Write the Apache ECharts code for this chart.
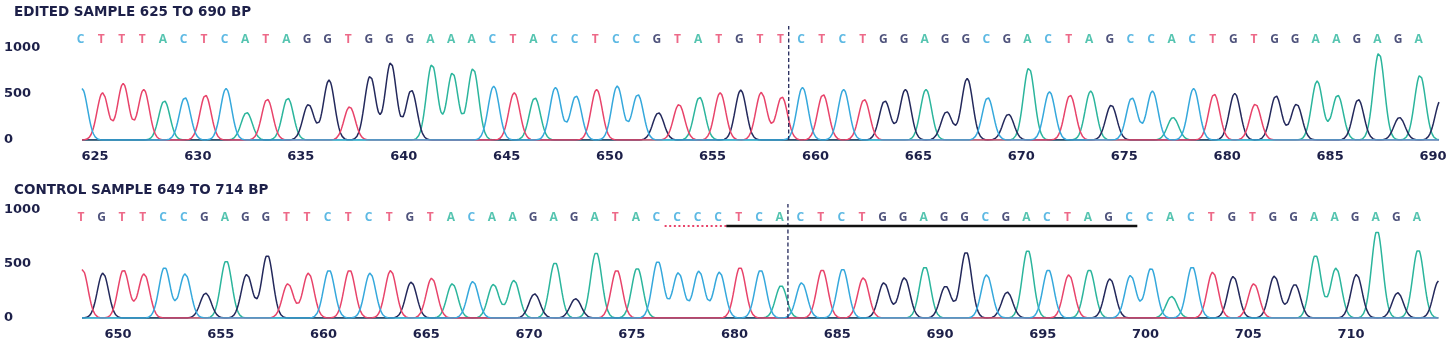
<!DOCTYPE html>
<html><head><meta charset="utf-8">
<script src="https://cdn.jsdelivr.net/npm/echarts@6/dist/echarts.min.js"></script>
<style>html,body{margin:0;padding:0;background:#fff}#c{width:1452px;height:345px}</style>
</head><body><div id="c"></div>
<script>
// ---------- DATA ----------
const topTitle = "EDITED SAMPLE 625 TO 690 BP";
const bottomTitle = "CONTROL SAMPLE 649 TO 714 BP";

// base calls (one letter per peak) and peak heights
const topSeq = "CTTTACTCATAGGTGGGAAACTACCTCCGTATGTTCTCTGGAGGCGACTAGCCACTGTGGAAGAGA";
const topHeights = [560,514,615,550,427,463,489,561,300,445,456,387,652,362,695,843,543,822,731,778,
  586,514,460,572,481,550,586,496,297,387,467,514,543,518,470,572,496,550,442,427,
  550,550,308,670,463,282,786,525,489,532,380,460,532,246,561,500,507,391,481,391,
  641,489,442,948,246,706];
const topFirstBase = 624.3;          // axis position of the first call
const topTrailPeak = ["G", 430];     // unlabelled peak just past the last call

const bottomSeq = "TGTTCCGAGGTTCTCTGTACAAGAGATACCCCTCACTCTGGAGGCGACTAGCCACTGTGGAAGAGA";
const bottomHeights = [450,417,447,410,472,410,231,534,404,586,318,417,447,447,417,441,333,370,318,339,
  312,349,225,518,179,611,447,466,528,420,435,426,472,447,302,327,450,457,373,327,
  373,478,296,617,401,241,633,450,401,450,364,395,463,200,478,426,386,318,389,312,
  586,463,404,812,235,636];
const bottomFirstBase = 648.2;
const bottomTrailPeak = ["G", 345];

const topTicks = [625,630,635,640,645,650,655,660,665,670,675,680,685,690];
const bottomTicks = [650,655,660,665,670,675,680,685,690,695,700,705,710];
const yTicks = [0, 500, 1000];

const topCut = 658.7;
const bottomCut = 682.6;
const pamRange = [676.6, 679.6];
const guideRange = [679.6, 699.6];

// ---------- STYLE ----------
const baseColor = { A: "#2bb59c", C: "#35a8dc", G: "#23285b", T: "#e8436a" };
const ink = "#1d2049";
const SIGMA = 0.27, PEAK_SHIFT = 0.07, STEP = 0.04;

function traces(seq, heights, first, trail, xmin, xmax) {
  const peaks = { A: [], C: [], G: [], T: [] };
  for (let i = 0; i < seq.length; i++) peaks[seq[i]].push([first + i + PEAK_SHIFT, heights[i]]);
  peaks[trail[0]].push([first + seq.length + PEAK_SHIFT, trail[1]]);
  const out = {};
  for (const b of "AGTC") {
    const d = [];
    for (let x = xmin; x <= xmax + 1e-9; x += STEP) {
      let y = 0;
      for (const [p, h] of peaks[b]) {
        const z = (x - p) / SIGMA;
        if (Math.abs(z) < 6) y += h * Math.exp(-0.5 * z * z);
      }
      d.push([+x.toFixed(3), +y.toFixed(1)]);
    }
    out[b] = d;
  }
  return out;
}

const panels = [
  { seq: topSeq, h: topHeights, first: topFirstBase, trail: topTrailPeak, xmin: 624.37, xmax: 690.29,
    ticks: topTicks, letterY: 1087, cut: topCut, cutTop: 1239 },
  { seq: bottomSeq, h: bottomHeights, first: bottomFirstBase, trail: bottomTrailPeak, xmin: 648.25, xmax: 714.28,
    ticks: bottomTicks, letterY: 926, cut: bottomCut, cutTop: 1056 }
];

const series = [];
const xAxis = [], yAxis = [];
panels.forEach((p, gi) => {
  xAxis.push({
    gridIndex: gi, type: "value", min: p.xmin, max: p.xmax,
    axisLine: { show: false }, axisTick: { show: false }, splitLine: { show: false },
    axisLabel: { customValues: p.ticks, margin: 10, fontSize: 13, fontWeight: "bold",
      color: ink, fontFamily: "DejaVu Sans", formatter: v => String(v) }
  });
  yAxis.push({
    gridIndex: gi, type: "value", min: 0, max: 1000, interval: 500,
    axisLine: { show: false }, axisTick: { show: false }, splitLine: { show: false },
    axisLabel: { customValues: yTicks, align: "left", margin: 78, fontSize: 13, fontWeight: "bold",
      color: ink, fontFamily: "DejaVu Sans", formatter: v => String(v) }
  });
  const tr = traces(p.seq, p.h, p.first, p.trail, p.xmin, p.xmax);
  for (const b of "AGTC") {
    series.push({
      type: "line", xAxisIndex: gi, yAxisIndex: gi, data: tr[b], showSymbol: false, symbol: "none",
      lineStyle: { color: baseColor[b], width: 1.5 }, itemStyle: { color: baseColor[b] },
      animation: false, silent: true, z: 2
    });
  }
  series.push({
    type: "scatter", xAxisIndex: gi, yAxisIndex: gi, clip: false, symbolSize: 1,
    itemStyle: { color: "rgba(0,0,0,0)" }, animation: false, silent: true, z: 5,
    data: p.seq.split("").map((c, i) => ({
      value: [p.first + i, p.letterY, c],
      label: { color: baseColor[c] }
    })),
    label: { show: true, position: "inside", formatter: q => q.value[2], fontSize: 12,
      fontWeight: "bold", fontFamily: "Open Sans" }
  });
  series.push({
    type: "line", xAxisIndex: gi, yAxisIndex: gi, clip: false, symbol: "none", animation: false, silent: true, z: 6,
    data: [[p.cut, 0], [p.cut, p.cutTop]],
    lineStyle: { color: "#23285b", width: 1.3, type: [4, 2.5] }
  });
});

series.push({
  type: "line", xAxisIndex: 1, yAxisIndex: 1, clip: false, symbol: "none", animation: false, silent: true, z: 6,
  data: [[pamRange[0], 852], [pamRange[1], 852]],
  lineStyle: { color: "#e8436a", width: 2.2, type: [2, 2.6] }
});
series.push({
  type: "line", xAxisIndex: 1, yAxisIndex: 1, clip: false, symbol: "none", animation: false, silent: true, z: 6,
  data: [[guideRange[0], 852], [guideRange[1], 852]],
  lineStyle: { color: "#111111", width: 2.4 }
});

const chart = echarts.init(document.getElementById("c"), null, { renderer: "canvas" });
const titleStyle = { fontSize: 13.5, fontWeight: "bold", color: ink, fontFamily: "DejaVu Sans" };
chart.setOption({
  animation: false,
  backgroundColor: "#ffffff",
  title: [
    { text: topTitle, left: 9, top: 0, textStyle: titleStyle },
    { text: bottomTitle, left: 9, top: 178, textStyle: titleStyle }
  ],
  grid: [
    { left: 82, right: 13, top: 48, height: 92 },
    { left: 82, right: 13, top: 210, height: 108 }
  ],
  xAxis, yAxis, series
});
</script></body></html>
